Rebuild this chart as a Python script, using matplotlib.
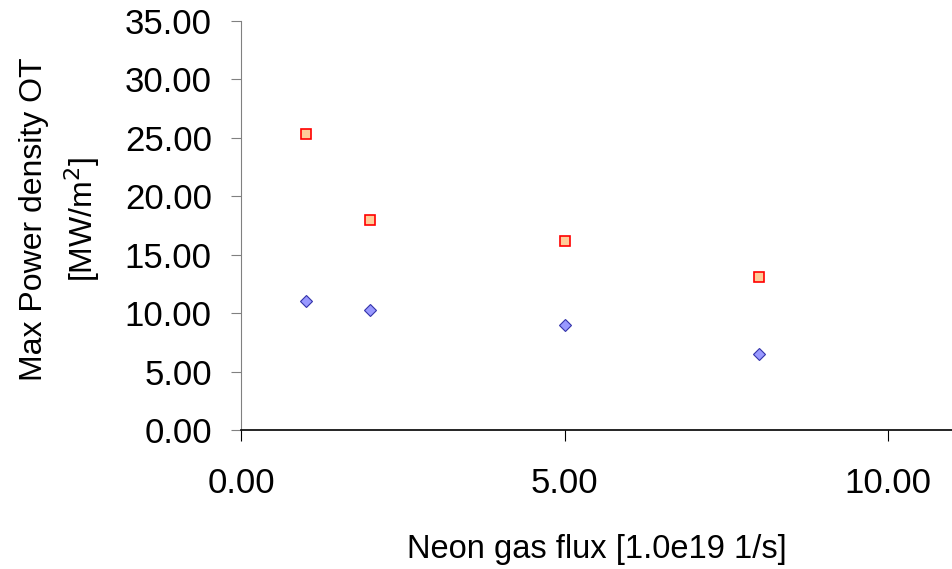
import matplotlib.pyplot as plt

# 데이터
neon_flux = [1.0, 2.0, 5.0, 8.0]
power_upper = [25.3, 18.0, 16.2, 13.1]
power_lower = [11.0, 10.3, 9.0, 6.5]

y_ticks = [0, 5, 10, 15, 20, 25, 30, 35]
x_ticks = [0, 5, 10]

plt.rcParams["font.family"] = ["Liberation Sans", "DejaVu Sans"]

fig = plt.figure(figsize=(9.53, 5.69), dpi=100)
ax = fig.add_axes([0.2529, 0.2443, 0.7471, 0.7188])

ax.plot(neon_flux, power_upper, linestyle="none", marker="s", markersize=7,
        markerfacecolor="#FFCC99", markeredgecolor="#FF0000", markeredgewidth=1.2)
ax.plot(neon_flux, power_lower, linestyle="none", marker="D", markersize=6,
        markerfacecolor="#9999FF", markeredgecolor="#3333AA", markeredgewidth=0.8)

ax.set_xlim(0, 11)
ax.set_ylim(0, 35)
ax.set_xticks(x_ticks)
ax.set_yticks(y_ticks)
ax.set_xticklabels([f"{v:.2f}" for v in x_ticks])
ax.set_yticklabels([f"{v:.2f}" for v in y_ticks])

ax.spines["top"].set_visible(False)
ax.spines["right"].set_visible(False)
ax.spines["left"].set_color("#808080")
ax.spines["bottom"].set_color("black")
ax.spines["bottom"].set_linewidth(1.2)

ax.tick_params(axis="y", direction="out", length=7, color="#808080",
               labelsize=25, pad=14)
ax.tick_params(axis="x", direction="out", length=8, color="black",
               labelsize=25, pad=19)

ax.set_ylabel("Max Power density OT\n[MW/m$^2$]", fontsize=23, linespacing=1.45)
ax.yaxis.set_label_coords(-0.195, 0.515)
ax.set_xlabel("Neon gas flux [1.0e19 1/s]", fontsize=23.5)
ax.xaxis.set_label_coords(0.5, -0.255)

fig.savefig("out.png", dpi=100)
